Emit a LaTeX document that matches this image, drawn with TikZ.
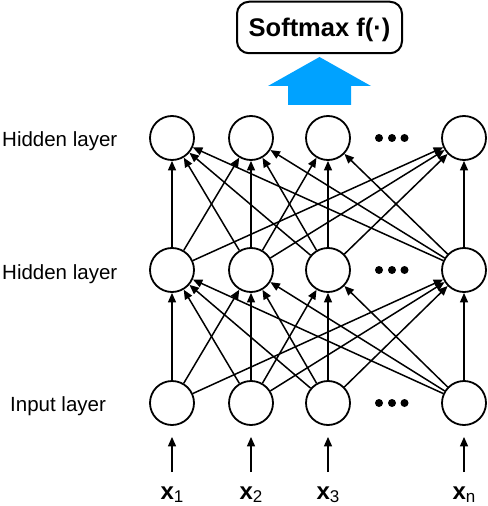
\documentclass[tikz,border=0pt]{standalone}
\usepackage{fontspec}
\setmainfont{Liberation Sans}
\usetikzlibrary{arrows.meta}
\definecolor{arrowblue}{RGB}{0,162,255}
\begin{document}
\begin{tikzpicture}[x=1bp,y=-1bp,
  neuron/.style={circle,draw,line width=1.8bp,minimum size=44bp,inner sep=0pt},
  edge/.style={line width=1.5bp,-{Triangle[length=9.5bp,width=8bp]}},
  lbl/.style={font=\fontsize{20.5bp}{24bp}\selectfont,anchor=base west,inner sep=0pt},
  dotc/.style={circle,fill,minimum size=8bp,inner sep=0pt},
  xlbl/.style={anchor=base,inner sep=0pt,font=\bfseries\fontsize{24bp}{26bp}\selectfont}]
\useasboundingbox (0,0) rectangle (488,506);
% softmax box
\node[draw,line width=2bp,rounded corners=12bp,minimum width=165bp,minimum height=51.5bp,
  font=\bfseries\fontsize{25.5bp}{30bp}\selectfont,text height=18.4bp,text depth=0pt,inner sep=0pt]
  (sm) at (319.5,27.5) {Softmax f(·)};
% blue arrow
\fill[arrowblue] (319.5,57) -- (371,86) -- (351,86) -- (351,105) -- (288,105) -- (288,86) -- (268,86) -- cycle;
% neurons
\foreach \n/\x in {1/172,2/251,3/328,4/464} {
  \node[neuron] (t\n) at (\x,138) {};
  \node[neuron] (m\n) at (\x,270) {};
  \node[neuron] (i\n) at (\x,403) {};
}
% dots
\foreach \r/\y in {t/138,m/270,i/403} {
  \node[dotc] (\r d1) at (379,\y) {};
  \node[dotc] (\r d2) at (392,\y) {};
  \node[dotc] (\r d3) at (404.5,\y) {};
}
% layer labels
\node[lbl] (lt) at (2,147) {Hidden layer};
\node[lbl] (lm) at (2,279) {Hidden layer};
\node[lbl] (li) at (10,411) {Input layer};
% connections
\foreach \s/\d in {1/1,1/2,1/4,2/1,2/2,2/3,2/4,3/1,3/2,3/3,3/4,4/1,4/2,4/3,4/4} {
  \draw[edge] (i\s) -- (m\d);
  \draw[edge] (m\s) -- (t\d);
}
% inputs
\foreach \n/\x/\s in {1/172/1,2/251/2,3/328/3,4/464/n} {
  \coordinate (s\n) at (\x,472);
  \draw[edge,shorten >=11bp] (s\n) -- (i\n);
  \node[xlbl] (x\n) at (\x,499) {x{\mdseries\fontsize{17bp}{17bp}\selectfont\raisebox{-3.5bp}{\s}}};
}
\end{tikzpicture}
\end{document}
